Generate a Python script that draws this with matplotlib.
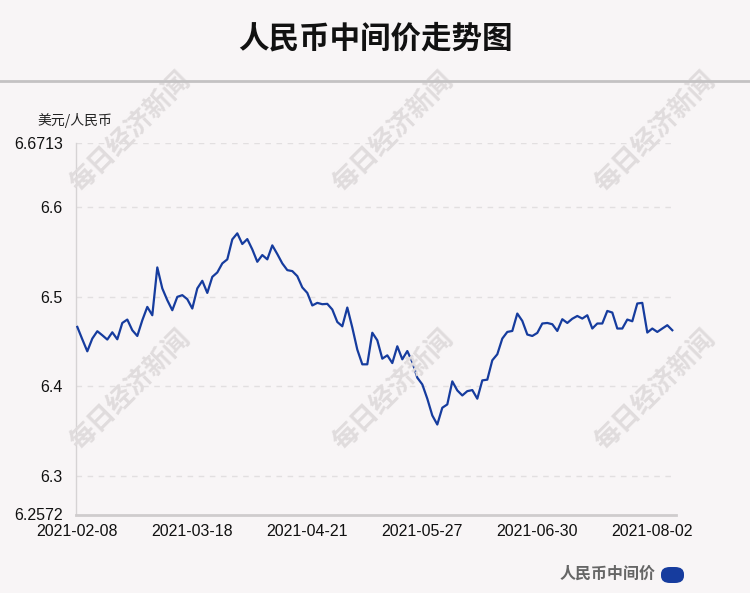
import matplotlib
matplotlib.use('Agg')
import matplotlib.pyplot as plt
from matplotlib.patches import FancyBboxPatch
from matplotlib.lines import Line2D

# 人民币中间价 (美元/人民币), trading days
rates = [
    6.4663, 6.4525, 6.4391, 6.4533, 6.4615, 6.4570, 6.4522, 6.4603, 6.4525, 6.4707,
    6.4745, 6.4626, 6.4562, 6.4737, 6.4886, 6.4793, 6.5326, 6.5092, 6.4961, 6.4849,
    6.4998, 6.5017, 6.4972, 6.4868, 6.5092, 6.5177, 6.5042, 6.5221, 6.5270, 6.5371,
    6.5416, 6.5639, 6.5706, 6.5587, 6.5642, 6.5527, 6.5389, 6.5464, 6.5416, 6.5572,
    6.5475, 6.5371, 6.5296, 6.5285, 6.5229, 6.5103, 6.5042, 6.4902, 6.4931, 6.4916,
    6.4920, 6.4857, 6.4718, 6.4670, 6.4879, 6.4656, 6.4410, 6.4246, 6.4246, 6.4598,
    6.4514, 6.4309, 6.4346, 6.4260, 6.4447, 6.4302, 6.4394, 6.4272, 6.4097, 6.4022,
    6.3863, 6.3676, 6.3575, 6.3762, 6.3799, 6.4056, 6.3955, 6.3899, 6.3947, 6.3959,
    6.3863, 6.4067, 6.4075, 6.4291, 6.4358, 6.4533, 6.4607, 6.4618, 6.4812, 6.4730,
    6.4578, 6.4562, 6.4596, 6.4701, 6.4707, 6.4693, 6.4618, 6.4749, 6.4707, 6.4754,
    6.4785, 6.4756, 6.4793, 6.4645, 6.4701, 6.4701, 6.4841, 6.4823, 6.4645, 6.4645,
    6.4745, 6.4726, 6.4924, 6.4931, 6.4600, 6.4645, 6.4607, 6.4645, 6.4682, 6.4626,
]
date_ticks = [0, 23, 46, 69, 92, 115]
date_labels = ['2021-02-08', '2021-03-18', '2021-04-21', '2021-05-27', '2021-06-30', '2021-08-02']
y_ticks = [6.2572, 6.3, 6.4, 6.5, 6.6, 6.6713]
y_labels = ['6.2572', '6.3', '6.4', '6.5', '6.6', '6.6713']

BG = '#f8f5f6'
BLUE = '#163c9e'
CJK = ['Noto Sans CJK SC', 'DejaVu Sans']

plt.rcParams['font.family'] = ['Liberation Sans', 'Noto Sans CJK SC', 'DejaVu Sans']

fig = plt.figure(figsize=(7.5, 5.93), dpi=100, facecolor=BG)
ax = fig.add_axes([76 / 750, 78.5 / 593, 600 / 750, 371.5 / 593])
ax.set_facecolor(BG)

# watermarks
for wx in [130, 393, 655]:
    for wy in [132, 390]:
        fig.text(wx / 750, 1 - wy / 593, '每日经济新闻', family=CJK, fontsize=19,
                 fontweight='bold', color='#e0dcdd', rotation=45,
                 ha='center', va='center', zorder=0)

# grid lines (dashed)
for v in y_ticks[1:]:
    ax.axhline(v, color='#e2dfe0', lw=1, ls=(0, (4, 4)), zorder=1)

x = list(range(len(rates)))
ax.plot(x, rates, color=BLUE, lw=1.6, zorder=3, solid_joinstyle='round')

ax.set_xlim(-0.26, 119.74)
ax.set_ylim(6.2572, 6.6713)
ax.set_yticks(y_ticks)
ax.set_yticklabels(y_labels)
ax.set_xticks(date_ticks)
ax.set_xticklabels(date_labels)
ax.tick_params(axis='y', length=0, pad=9.4, labelsize=11.5, colors='#111111')
ax.tick_params(axis='x', length=0, pad=7, labelsize=11.5, colors='#111111')

for s in ['top', 'right']:
    ax.spines[s].set_visible(False)
ax.spines['left'].set_color('#d6d3d4')
ax.spines['left'].set_linewidth(1)
ax.spines['bottom'].set_color('#cfcccd')
ax.spines['bottom'].set_linewidth(2)

# title and separator
fig.text(0.5, 1 - 38 / 593, '人民币中间价走势图', family=CJK, fontsize=22,
         fontweight='bold', ha='center', va='center', color='#111111')
fig.add_artist(Line2D([0, 1], [1 - 81 / 593, 1 - 81 / 593], color='#c4c2c3', lw=2))

# axis unit
fig.text(75 / 750, 1 - 120 / 593, '美元/人民币', family=CJK, fontsize=10,
         ha='center', va='center', color='#222222')

# legend
fig.text(656 / 750, 1 - 574 / 593, '人民币中间价', family=CJK, fontsize=11.5,
         fontweight='bold', ha='right', va='center', color='#666666')
fig.add_artist(FancyBboxPatch((661 / 750, 1 - 583 / 593), 23 / 750, 16 / 593,
                              boxstyle='round,pad=0,rounding_size=0.012',
                              transform=fig.transFigure, facecolor=BLUE,
                              edgecolor='none'))

fig.savefig('out.png', dpi=100, facecolor=BG)
